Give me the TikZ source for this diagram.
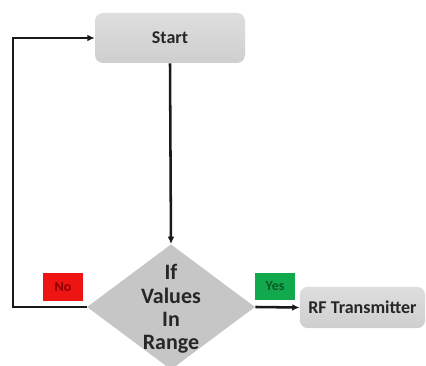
\documentclass[tikz,border=0pt]{standalone}
\usepackage{fontspec}
\setmainfont{Carlito}
\usetikzlibrary{shapes.geometric,arrows.meta}
\definecolor{boxgray}{HTML}{CFCFCF}
\definecolor{diagray}{HTML}{C6C6C6}
\definecolor{nored}{HTML}{EE1414}
\definecolor{yesgreen}{HTML}{12A84E}
\definecolor{notext}{HTML}{8A0000}
\definecolor{yestext}{HTML}{0A5A26}
\begin{document}
\begin{tikzpicture}[x=0.75pt,y=-0.75pt,
  procbox/.style={draw=none,rounded corners=6pt,top color=boxgray!70,bottom color=boxgray,inner sep=0pt,font=\bfseries\fontsize{13.5}{15}\selectfont,text=black!85},
  decbox/.style={diamond,draw=none,fill=diagray,inner sep=0pt,minimum width=126pt,minimum height=94pt},
  tagbox/.style={draw=none,inner sep=0pt,minimum width=30pt,minimum height=20.5pt,font=\bfseries\fontsize{10.5}{12}\selectfont},
  conn/.style={line width=1.9pt,draw=black!90,-{Latex[length=5.5pt,width=5pt]}}]
\useasboundingbox (0,0) rectangle (426,366);
\node[procbox,minimum width=112.5pt,minimum height=37.5pt] (start) at (170,38) {Start};
\node[decbox] (dia) at (171,307) {};
\node[align=center,font=\bfseries\fontsize{16.5}{17.5}\selectfont,text=black!85] (diatext) at (171,309) {If\\Values\\In\\Range};
\node[procbox,minimum width=94pt,minimum height=31pt] (rf) at (362.5,307.5) {RF Transmitter};
\node[tagbox,fill=nored,text=notext] (no) at (63,287) {No};
\node[tagbox,fill=yesgreen,text=yestext] (yes) at (275,286.5) {Yes};
\draw[conn] (start.south) -- (dia.north);
\draw[conn] (dia.east) -- (rf.west);
\coordinate (lc) at (13,307);
\draw[conn] (dia.west) -- (lc) |- (start.west);
\end{tikzpicture}
\end{document}
